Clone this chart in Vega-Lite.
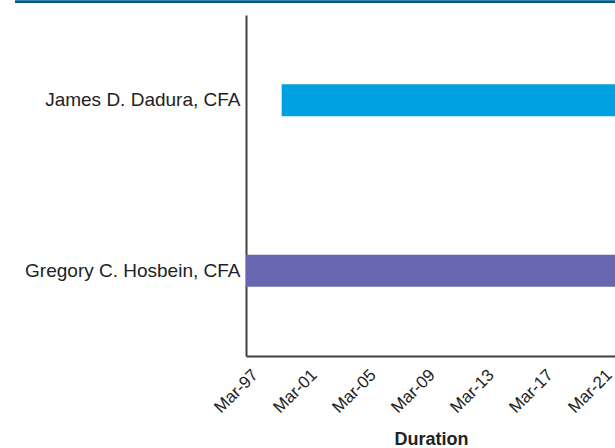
{
  "$schema": "https://vega.github.io/schema/vega-lite/v6.json",
  "padding": {"left": 13, "top": 0, "right": 0, "bottom": 0},
  "background": "white",
  "width": 370,
  "height": 341,
  "config": {
    "font": "Liberation Sans",
    "view": {"stroke": null}
  },
  "data": {
    "values": [
      {"manager": "James D. Dadura, CFA", "start": "1999-08-01", "end": "2022-04-01"},
      {"manager": "Gregory C. Hosbein, CFA", "start": "1997-03-01", "end": "2022-04-01"}
    ]
  },
  "resolve": {"scale": {"y": "independent"}, "axis": {"y": "independent"}},
  "layer": [
    {
      "mark": {"type": "bar", "height": 32, "clip": true},
      "encoding": {
        "y": {
          "field": "manager",
          "type": "nominal",
          "sort": ["James D. Dadura, CFA", "Gregory C. Hosbein, CFA"],
          "scale": {"paddingInner": 0, "paddingOuter": 0},
          "axis": {
            "title": null,
            "ticks": false,
            "domainColor": "#404040",
            "domainWidth": 2,
            "labelFontSize": 19,
            "labelLimit": 0,
            "labelColor": "#222222",
            "labelPadding": 6
          }
        },
        "x": {
          "field": "start",
          "type": "temporal",
          "scale": {"domain": [{"year": 1997, "month": 3, "date": 1}, {"year": 2022, "month": 4, "date": 1}], "nice": false},
          "axis": {
            "title": "Duration",
            "titleFontSize": 18,
            "titleFontWeight": "bold",
            "titleColor": "#222222",
            "titlePadding": 15,
            "format": "%b-%y",
            "values": [
              {"year": 1997, "month": 3, "date": 1},
              {"year": 2001, "month": 3, "date": 1},
              {"year": 2005, "month": 3, "date": 1},
              {"year": 2009, "month": 3, "date": 1},
              {"year": 2013, "month": 3, "date": 1},
              {"year": 2017, "month": 3, "date": 1},
              {"year": 2021, "month": 3, "date": 1}
            ],
            "labelAngle": -45,
            "labelAlign": "right",
            "labelBaseline": "middle",
            "labelFontSize": 17,
            "labelColor": "#222222",
            "labelPadding": 16,
            "labelOffset": 9,
            "labelOverlap": false,
            "labelBound": false,
            "labelFlush": false,
            "ticks": false,
            "grid": false,
            "domainColor": "#404040",
            "domainWidth": 2
          }
        },
        "x2": {"field": "end"},
        "color": {
          "field": "manager",
          "type": "nominal",
          "scale": {"domain": ["James D. Dadura, CFA", "Gregory C. Hosbein, CFA"], "range": ["#00A1E0", "#6767B1"]},
          "legend": null
        }
      }
    },
    {
      "mark": {"type": "rule", "color": "#005A8C", "strokeWidth": 2.5, "clip": false},
      "encoding": {
        "x": {"datum": {"year": 1981, "month": 7, "date": 3}, "type": "temporal"},
        "x2": {"datum": {"year": 2022, "month": 4, "date": 1}},
        "y": {"datum": 1, "type": "quantitative", "scale": {"domain": [0, 0.9625]}, "axis": null}
      }
    }
  ]
}
